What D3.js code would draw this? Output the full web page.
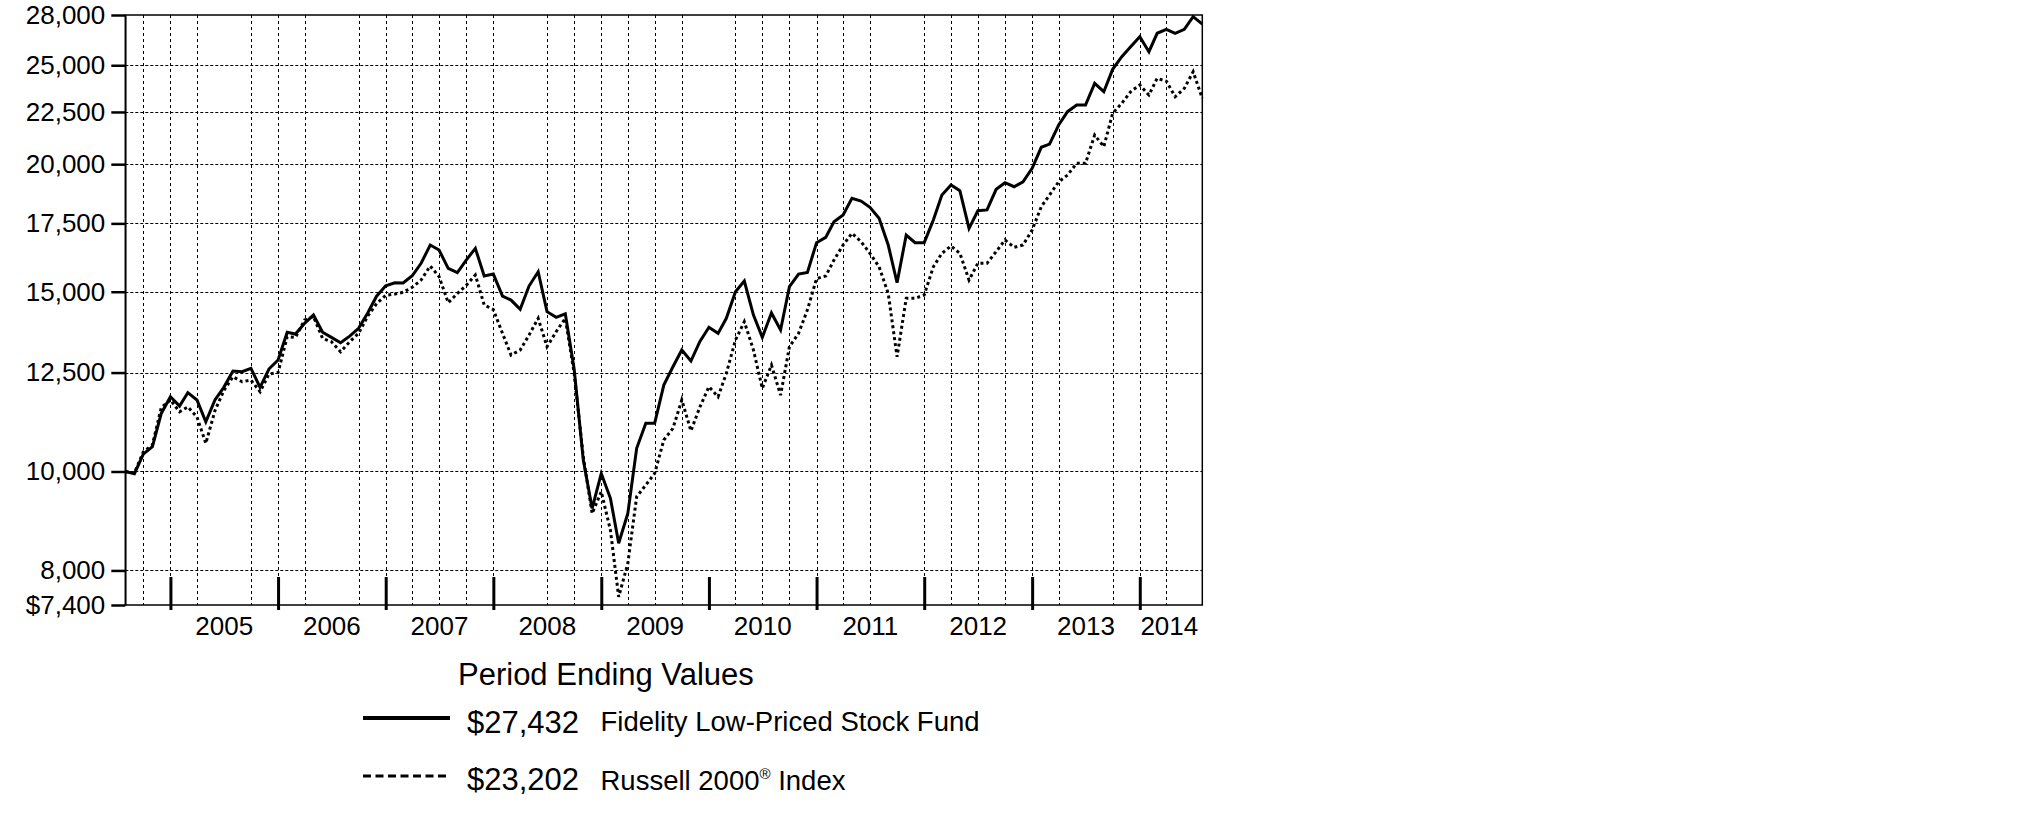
<!DOCTYPE html>
<html>
<head>
<meta charset="utf-8">
<script src="https://cdn.jsdelivr.net/npm/d3@7"></script>
<style>
  html, body { margin: 0; padding: 0; background: #fff; }
  svg { display: block; font-family: "Liberation Sans", Arial, Helvetica, sans-serif; }
</style>
</head>
<body>
<svg id="chart" width="2025" height="828"></svg>
<script>
// ---------------- DATA ----------------
// Monthly period-end values, Jul 2004 .. Jul 2014 (121 months)
const startYear = 2004, startMonth = 7; // July 2004
const fundName = "Fidelity Low-Priced Stock Fund";
const indexName = "Russell 2000";
const fundValues = [
  10000, 9950, 10400, 10575, 11400, 11835, 11590, 11945, 11750, 11185,
  11750, 12090, 12545, 12525, 12620, 12090, 12600, 12860, 13687, 13635,
  13967, 14232, 13690, 13533, 13370, 13570, 13810, 14300, 14850, 15205,
  15307, 15300, 15550, 15994, 16666, 16478, 15812, 15658, 16111, 16542,
  15541, 15610, 14855, 14720, 14417, 15193, 15691, 14340, 14158, 14270,
  12600, 10262, 9200, 9957, 9413, 8505, 9097, 10536, 11147, 11147,
  12153, 12665, 13152, 12829, 13400, 13843, 13656, 14127, 15000, 15367,
  14232, 13533, 14300, 13760, 15170, 15610, 15670, 16755, 16957, 17564,
  17834, 18516, 18404, 18144, 17702, 16666, 15307, 17047, 16755, 16755,
  17632, 18656, 19082, 18838, 17304, 18007, 18040, 18897, 19180, 19009,
  19220, 19816, 20777, 20930, 21848, 22515, 22856, 22856, 24002, 23551,
  24771, 25486, 26068, 26663, 25775, 26870, 27111, 26870, 27111, 27893,
  27432
];
const indexValues = [
  10000, 9970, 10450, 10620, 11550, 11750, 11443, 11570, 11311, 10655,
  11470, 12000, 12383, 12244, 12290, 11970, 12457, 12500, 13552, 13530,
  14072, 14180, 13501, 13400, 13100, 13400, 13656, 14200, 14600, 14880,
  14920, 14980, 15150, 15400, 15897, 15520, 14632, 14940, 15215, 15576,
  14557, 14410, 13656, 13004, 13152, 13603, 14127, 13251, 13706, 14127,
  12477, 10337, 9097, 9555, 8761, 7538, 8128, 9447, 9699, 9957,
  10735, 11021, 11750, 10960, 11560, 12108, 11835, 12477, 13450, 14020,
  13152, 12062, 12714, 11880, 13251, 13656, 14400, 15450, 15541, 16111,
  16666, 17113, 16792, 16357, 15868, 14940, 12955, 14778, 14778, 14890,
  15868, 16357, 16630, 16357, 15400, 15994, 15994, 16420, 16857, 16580,
  16666, 17240, 18172, 18656, 19220, 19515, 20039, 20039, 21359, 20804,
  22430, 22944, 23551, 23910, 23378, 24274, 24120, 23286, 23733, 24638,
  23202
];
const yTickValues = [7400, 8000, 10000, 12500, 15000, 17500, 20000, 22500, 25000, 28000];
const yTickLabels = ["$7,400", "8,000", "10,000", "12,500", "15,000", "17,500", "20,000", "22,500", "25,000", "28,000"];
const yearLabels = ["2005", "2006", "2007", "2008", "2009", "2010", "2011", "2012", "2013", "2014"];
// quarter-end vertical grid lines (as drawn in the reference)
const gridMonths = [
  "2004-09", "2004-12", "2005-03", "2005-09", "2005-12", "2006-03", "2006-09", "2006-12",
  "2007-03", "2007-06", "2007-09", "2007-12", "2008-06", "2008-09", "2008-12",
  "2009-03", "2009-06", "2009-09", "2010-03", "2010-06", "2010-09", "2010-12",
  "2011-03", "2011-06", "2011-12", "2012-03", "2012-06", "2012-09", "2012-12",
  "2013-03", "2013-09", "2013-12", "2014-03"
];
const legendTitle = "Period Ending Values";
const legendValues = ["$27,432", "$23,202"];

// ---------------- HELPERS ----------------
const monthEnd = (y, m) => new Date(Date.UTC(y, m, 0)); // m is 1-based month
const dates = fundValues.map((_, i) => monthEnd(startYear, startMonth + i));
const parseYM = s => { const [y, m] = s.split("-").map(Number); return monthEnd(y, m); };

// ---------------- LAYOUT ----------------
const svg = d3.select("#chart");
const L = 125.3, R = 1202.3, T = 15, B = 605;

const x = d3.scaleUtc().domain([dates[0], dates[dates.length - 1]]).range([L, R]);
const y = d3.scaleLog().domain([7400, 28000]).range([B, T]);

// grid: horizontal
svg.append("g").selectAll("line")
  .data(yTickValues.filter(v => v !== 7400 && v !== 28000))
  .join("line")
  .attr("x1", L).attr("x2", R)
  .attr("y1", d => Math.round(y(d)) + 0.5).attr("y2", d => Math.round(y(d)) + 0.5)
  .attr("stroke", "#000").attr("stroke-width", 1)
  .attr("stroke-dasharray", "3,2");

// grid: vertical
svg.append("g").selectAll("line")
  .data(gridMonths.map(parseYM))
  .join("line")
  .attr("x1", d => Math.round(x(d)) + 0.5).attr("x2", d => Math.round(x(d)) + 0.5)
  .attr("y1", T).attr("y2", B)
  .attr("stroke", "#000").attr("stroke-width", 1)
  .attr("stroke-dasharray", "3,3");

// frame
svg.append("rect")
  .attr("x", L).attr("y", T).attr("width", R - L).attr("height", B - T)
  .attr("fill", "none").attr("stroke", "#000").attr("stroke-width", 1.5);

// Y axis
const yAxis = d3.axisLeft(y)
  .tickValues(yTickValues)
  .tickFormat((d, i) => yTickLabels[i])
  .tickSizeInner(14).tickSizeOuter(0).tickPadding(6);
const gy = svg.append("g").attr("transform", `translate(${L},0)`).call(yAxis);
gy.select(".domain").attr("stroke-width", 1.5);
gy.selectAll(".tick line").attr("stroke-width", 2.5);
gy.selectAll(".tick text").attr("font-size", 26).attr("font-family", "Liberation Sans, Arial, sans-serif").attr("fill", "#000");

// X axis: year ticks at Dec 31
const yearTickDates = d3.range(2004, 2014).map(yr => monthEnd(yr, 12));
const xAxis = d3.axisBottom(x)
  .tickValues(yearTickDates)
  .tickFormat("")
  .tickSizeInner(-33).tickSizeOuter(0);
const gx = svg.append("g").attr("transform", `translate(0,${B + 5})`).call(xAxis);
gx.select(".domain").remove();
gx.selectAll(".tick line").attr("stroke-width", 3).attr("stroke", "#000");

// year labels centered in each year span (clamped to plot)
const domain = x.domain();
svg.append("g").selectAll("text")
  .data(yearLabels)
  .join("text")
  .attr("x", d => {
    const yr = +d;
    const a = new Date(Math.max(+monthEnd(yr - 1, 12), +domain[0]));
    const b = new Date(Math.min(+monthEnd(yr, 12), +domain[1]));
    const c = (x(a) + x(b)) / 2;
    return Math.min(c, R - 4 - 29);
  })
  .attr("y", 635)
  .attr("text-anchor", "middle")
  .attr("font-size", 26)
  .attr("fill", "#000")
  .text(d => d);

// lines
const line = d3.line().x((d, i) => x(dates[i])).y(d => y(d));
svg.append("path")
  .datum(indexValues)
  .attr("d", line)
  .attr("fill", "none").attr("stroke", "#000").attr("stroke-width", 3)
  .attr("stroke-dasharray", "3,3");
svg.append("path")
  .datum(fundValues)
  .attr("d", line)
  .attr("fill", "none").attr("stroke", "#000").attr("stroke-width", 3)
  .attr("stroke-linejoin", "miter");

// legend
const lg = svg.append("g");
lg.append("text").attr("x", 458).attr("y", 685).attr("font-size", 31).attr("fill", "#000").text(legendTitle);

lg.append("line").attr("x1", 363).attr("x2", 450).attr("y1", 718).attr("y2", 718)
  .attr("stroke", "#000").attr("stroke-width", 4);
lg.append("text").attr("x", 467).attr("y", 733).attr("font-size", 31).attr("fill", "#000").text(legendValues[0]);
lg.append("text").attr("x", 600.5).attr("y", 731).attr("font-size", 27.5).attr("fill", "#000").text(fundName);

lg.append("line").attr("x1", 363).attr("x2", 446).attr("y1", 776).attr("y2", 776)
  .attr("stroke", "#000").attr("stroke-width", 3).attr("stroke-dasharray", "8,4.5");
lg.append("text").attr("x", 467).attr("y", 790).attr("font-size", 31).attr("fill", "#000").text(legendValues[1]);
const t2 = lg.append("text").attr("x", 600.5).attr("y", 790).attr("font-size", 27.5).attr("fill", "#000");
t2.append("tspan").text(indexName);
t2.append("tspan").attr("font-size", 15).attr("dy", -11).text("®");
t2.append("tspan").attr("dy", 11).text(" Index");
</script>
</body>
</html>
